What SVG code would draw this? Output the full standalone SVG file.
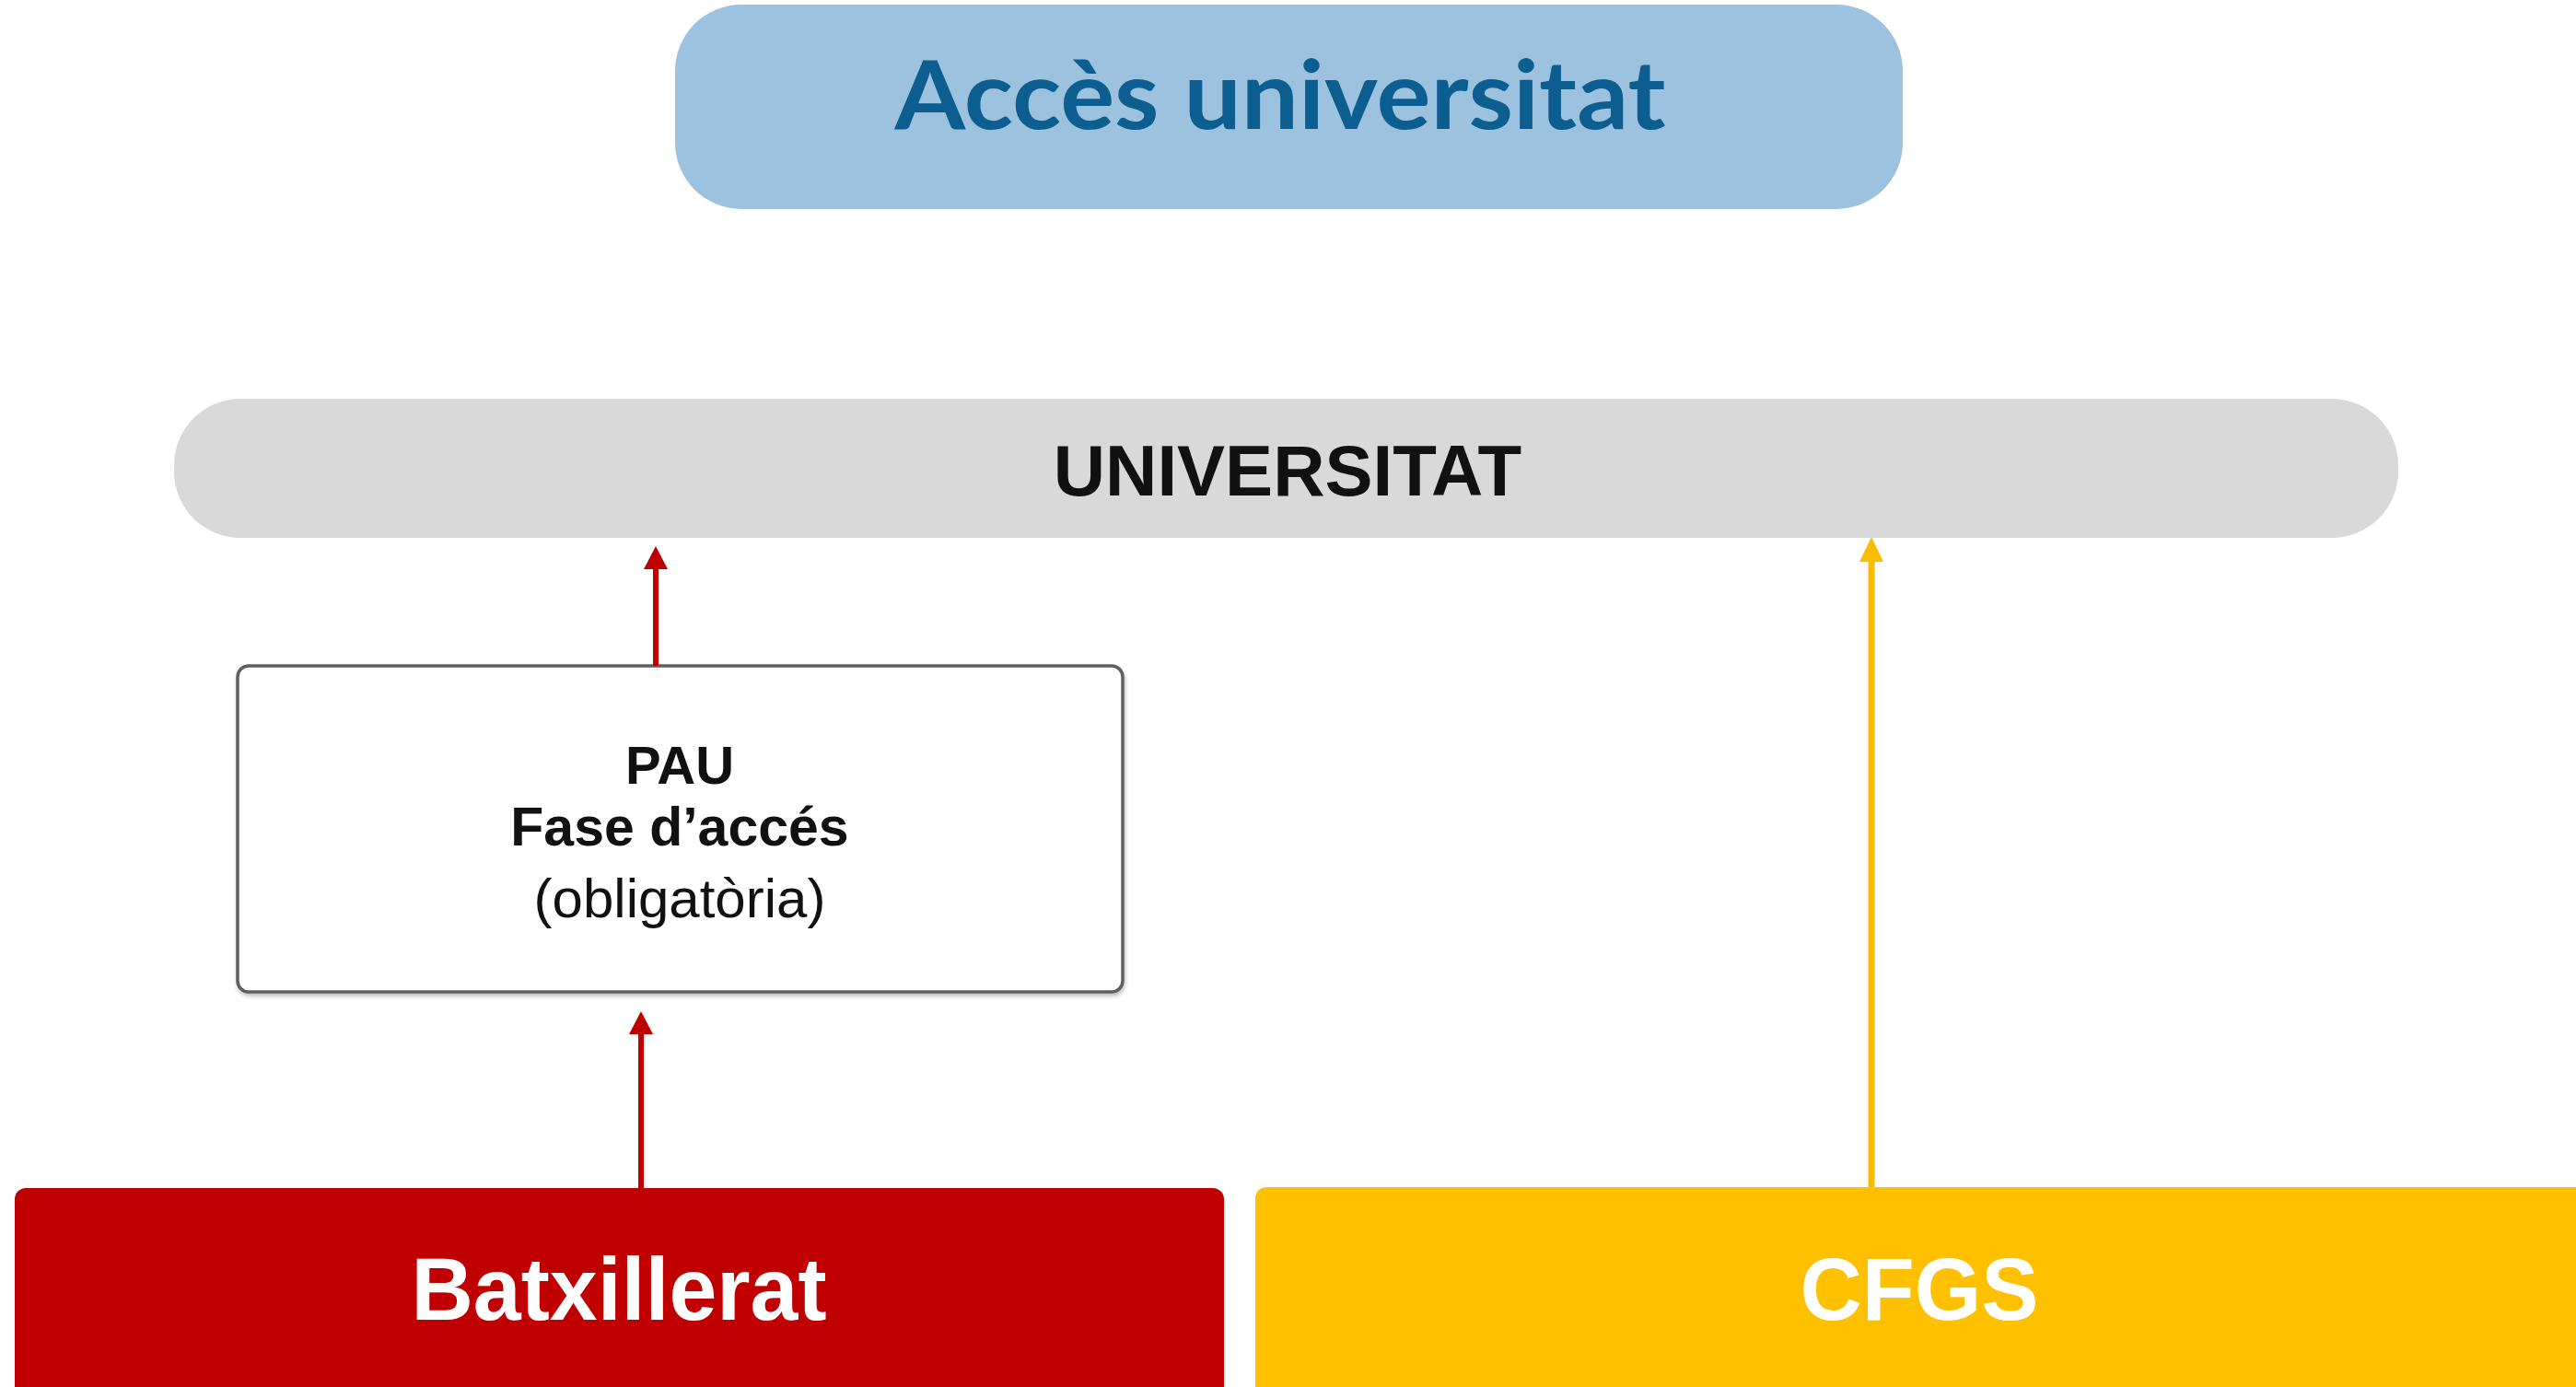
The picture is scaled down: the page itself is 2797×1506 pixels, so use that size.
<svg xmlns="http://www.w3.org/2000/svg" width="2797" height="1506" viewBox="0 0 2797 1506">
  <style>
    .title { font-family: "Lato", "Open Sans", "Liberation Sans", sans-serif; font-weight: 700; fill: #0B5E8F; }
    .sans { font-family: "Liberation Sans", Arial, sans-serif; }
    .bold { font-weight: 700; }
    .dark { fill: #111111; }
    .white { fill: #FFFFFF; }
  </style>
  <defs>
    <marker id="headRed" markerUnits="userSpaceOnUse" markerWidth="26" markerHeight="26" refX="0" refY="13" orient="auto">
      <path d="M0,0 L25,13 L0,26 Z" fill="#C00000"/>
    </marker>
    <marker id="headYellow" markerUnits="userSpaceOnUse" markerWidth="28" markerHeight="26" refX="0" refY="13" orient="auto">
      <path d="M0,0 L27,13 L0,26 Z" fill="#F9BC00"/>
    </marker>
    <filter id="shadow" x="-5%" y="-5%" width="110%" height="115%">
      <feDropShadow dx="1" dy="3" stdDeviation="2" flood-color="#000000" flood-opacity="0.25"/>
    </filter>
  </defs>
  <rect width="2797" height="1506" fill="#FFFFFF"/>

  <g id="title">
    <rect x="733" y="5" width="1333" height="222" rx="72" ry="72" fill="#9CC2DF"/>
    <text class="title" x="1390" y="140" font-size="104" text-anchor="middle" textLength="837" lengthAdjust="spacingAndGlyphs">Accès universitat</text>
  </g>

  <g id="universitat">
    <rect x="189" y="433" width="2415" height="151" rx="72" ry="72" fill="#D9D9D9"/>
    <text class="sans bold dark" x="1398" y="538" font-size="78" text-anchor="middle">UNIVERSITAT</text>
  </g>

  <g id="pau">
    <rect x="258" y="723" width="961" height="354" rx="12" ry="12" fill="#FFFFFF" stroke="#5F5F5F" stroke-width="3.5" filter="url(#shadow)"/>
    <text class="sans bold dark" x="738" y="851" font-size="58" text-anchor="middle">PAU</text>
    <text class="sans bold dark" x="738" y="918" font-size="59" text-anchor="middle">Fase d’accés</text>
    <text class="sans dark" x="738" y="996" font-size="60" text-anchor="middle">(obligatòria)</text>
  </g>

  <g id="batxillerat">
    <rect x="16" y="1290" width="1313" height="240" rx="12" ry="12" fill="#C00000"/>
    <text class="sans bold white" x="672" y="1433" font-size="97" text-anchor="middle" textLength="451" lengthAdjust="spacingAndGlyphs">Batxillerat</text>
  </g>

  <g id="cfgs">
    <rect x="1363" y="1289" width="1460" height="240" rx="12" ry="12" fill="#FFC000"/>
    <text class="sans bold white" x="2084" y="1433" font-size="97" text-anchor="middle" textLength="259" lengthAdjust="spacingAndGlyphs">CFGS</text>
  </g>

  <g id="connectors" fill="none">
    <line x1="712" y1="723" x2="712" y2="618" stroke="#C00000" stroke-width="6" marker-end="url(#headRed)"/>
    <line x1="696" y1="1290" x2="696" y2="1123" stroke="#C00000" stroke-width="6" marker-end="url(#headRed)"/>
    <line x1="2032" y1="1289" x2="2032" y2="610" stroke="#F9BC00" stroke-width="7" marker-end="url(#headYellow)"/>
  </g>
</svg>
